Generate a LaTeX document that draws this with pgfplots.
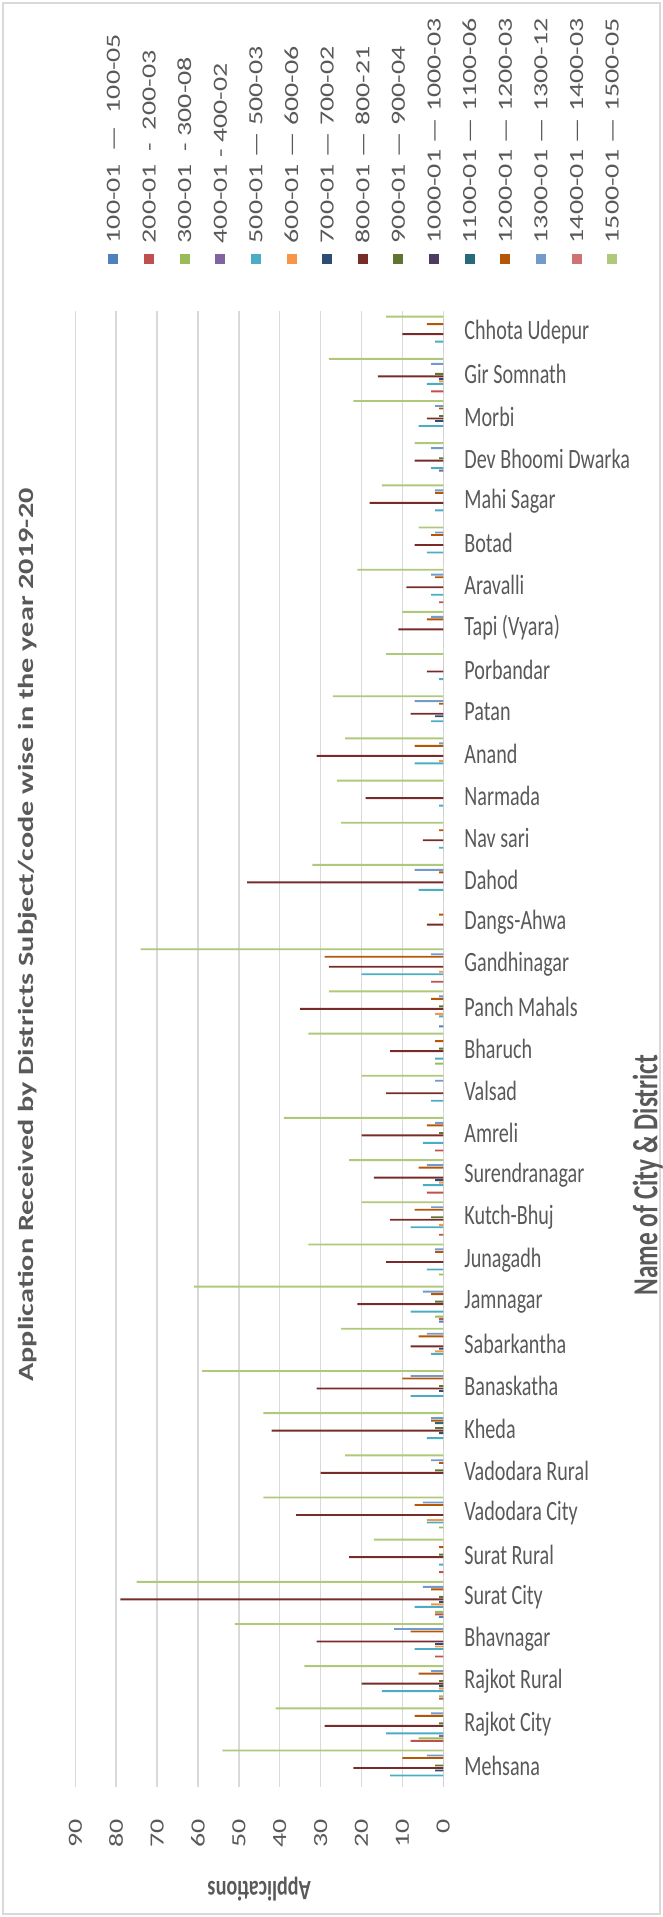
\documentclass[border=0pt]{standalone}
\usepackage{fontspec}
\setmainfont{Carlito}
\usepackage{pgfplots}
\usepackage{pgfplotstable}
\pgfplotsset{compat=1.18}

\definecolor{sA}{HTML}{4F81BD}
\definecolor{sB}{HTML}{C0504D}
\definecolor{sC}{HTML}{9BBB59}
\definecolor{sD}{HTML}{8064A2}
\definecolor{sE}{HTML}{4BACC6}
\definecolor{sF}{HTML}{F79646}
\definecolor{sG}{HTML}{2C4D75}
\definecolor{sH}{HTML}{772C2A}
\definecolor{sI}{HTML}{5F7530}
\definecolor{sJ}{HTML}{4D3B62}
\definecolor{sK}{HTML}{276A7C}
\definecolor{sL}{HTML}{B65708}
\definecolor{sM}{HTML}{729ACA}
\definecolor{sN}{HTML}{CD7371}
\definecolor{sO}{HTML}{AFC97A}
\definecolor{txt}{HTML}{595959}
\definecolor{grd}{HTML}{D9D9D9}

\newcommand\fs{\fontsize{15.9pt}{19pt}\selectfont}
% coloured key square at the start of a legend entry
\newcommand\lsq[1]{\textcolor{#1}{\rule[0.041cm]{0.2cm}{0.278cm}}\hspace{0.22cm}}

% rows: 0 = Mehsana (bottom) ... 34 = Chhota Udepur (top)
\pgfplotstableread{
idx s1 s2 s3 s4 s5 s6 s7 s8 s9 s10 s11 s12 s13 s14 s15
0  0 0 0 0 13 0 2 22 2 0 0 10 4  0 54
1  0 8 6 1 14 0 0 29 1 0 0 7  3  0 41
2  0 1 1 0 15 1 1 20 1 0 0 6  3  0 34
3  0 2 0 0 7  2 2 31 0 0 0 8  12 0 51
4  1 2 2 0 7  3 1 79 1 0 0 3  5  0 75
5  0 1 0 0 1  0 0 23 1 0 0 1  0  0 17
6  0 0 1 0 4  4 0 36 0 0 0 7  5  0 44
7  0 0 0 0 0  0 0 30 2 0 0 1  3  0 24
8  0 0 0 0 4  0 1 42 2 0 2 3  3  0 44
9  0 0 0 0 8  0 1 31 1 0 0 10 8  0 59
10 0 0 0 0 3  2 1 8  0 0 0 6  4  0 25
11 1 1 2 0 8  0 0 21 2 0 0 3  5  0 61
12 0 0 1 0 4  0 0 14 0 0 0 2  2  0 33
13 0 1 0 0 8  1 0 13 3 0 0 7  3  0 20
14 0 4 0 0 5  1 2 17 0 0 0 6  4  0 23
15 0 2 0 0 5  0 0 20 1 0 0 4  2  0 39
16 0 0 0 0 3  0 0 14 0 0 0 0  2  0 20
17 0 0 2 0 2  0 0 13 1 0 0 2  0  0 33
18 1 0 0 0 1  2 0 35 1 0 0 3  1  0 28
19 0 3 0 0 20 1 0 28 0 0 0 29 3  0 74
20 0 0 0 0 0  0 0 4  0 0 0 1  0  0 0
21 0 0 0 0 6  0 0 48 0 0 0 1  7  0 32
22 0 0 0 0 1  0 0 5  0 0 0 1  0  0 25
23 0 0 0 0 1  0 0 19 0 0 0 0  0  0 26
24 0 0 0 0 7  1 0 31 0 0 0 7  1  0 24
25 0 0 0 0 3  0 2 8  0 0 0 1  7  0 27
26 0 0 0 0 1  0 0 4  0 0 0 0  0  0 14
27 0 0 0 0 0  0 0 11 0 0 0 4  3  0 10
28 0 1 0 0 3  0 0 9  0 0 0 2  3  0 21
29 0 0 0 0 4  0 0 7  0 0 0 3  2  0 6
30 0 0 0 0 2  0 0 18 0 0 0 2  2  0 15
31 0 0 0 1 3  0 0 7  1 0 0 0  3  0 7
32 0 0 0 0 6  0 2 4  1 0 0 1  2  0 22
33 0 3 0 0 4  1 1 16 2 0 0 0  3  0 28
34 0 0 0 0 2  0 0 10 0 0 0 4  0  0 14
}\datatable

\begin{document}
\begin{tikzpicture}
\useasboundingbox (0,0) rectangle (13.26cm,38.34cm);
\draw[grd, line width=1.2pt] (0.06cm,0.06cm) rectangle (13.2cm,38.28cm);

\begin{axis}[
    at={(1.506cm,2.60cm)}, anchor=south west,
    scale only axis,
    width=7.36cm, height=29.52cm,
    xbar,
    x dir=reverse,
    xmin=0, xmax=90,
    ymin=-0.5, ymax=34.5,
    enlargelimits=false,
    axis line style={draw=none},
    tick style={draw=none},
    xmajorgrids, grid style={grd, line width=0.8pt},
    xtick={0,10,...,90},
    /pgf/number format/assume math mode=true,
    xticklabel style={yshift=-0.64cm, xscale=0.72, rotate=90, anchor=east,
        inner sep=0pt, font=\fs, text=txt},
    ytick={0,...,34},
    yticklabels={Mehsana, Rajkot City, Rajkot Rural, Bhavnagar, Surat City,
        Surat Rural, Vadodara City, Vadodara Rural, Kheda, Banaskatha,
        Sabarkantha, Jamnagar, Junagadh, Kutch-Bhuj, Surendranagar, Amreli,
        Valsad, Bharuch, Panch Mahals, Gandhinagar, Dangs-Ahwa, Dahod,
        Nav sari, Narmada, Anand, Patan, Porbandar, Tapi (Vyara), Aravalli,
        Botad, Mahi Sagar, Dev Bhoomi Dwarka, Morbi, Gir Somnath,
        Chhota Udepur},
    yticklabel pos=right,
    yticklabel style={xshift=0.268cm, xscale=0.72, anchor=west,
        inner sep=0pt, font=\fs, text=txt},
    xlabel={Applications},
    xlabel style={at={(axis description cs:0.5,-0.0691)}, anchor=center,
        xscale=0.72, rotate=180, font=\bfseries\fs, text=txt},
    ylabel={Name of City \& District},
    ylabel style={at={(axis description cs:1.556,0.4146)}, anchor=center,
        xscale=0.72, rotate=0, font=\bfseries\fontsize{20pt}{24pt}\selectfont, text=txt},
    bar width=0.045,
    legend columns=15,
    legend plot pos=none,
    legend cell align=left,
    legend style={draw=none, fill=none, inner sep=0pt,
        at={(0.0848,1.0312)}, anchor=south west,
        nodes={xscale=0.72, rotate=90, anchor=west, inner sep=0pt,
            text height=10.3pt, text depth=0pt, font=\fs, text=txt},
        /tikz/column sep=0.452cm},
]
\addplot[fill=sA, draw=none, bar shift=-0.465] table[x=s1,  y=idx] {\datatable};
\addplot[fill=sB, draw=none, bar shift=-0.406] table[x=s2,  y=idx] {\datatable};
\addplot[fill=sC, draw=none, bar shift=-0.347] table[x=s3,  y=idx] {\datatable};
\addplot[fill=sD, draw=none, bar shift=-0.287] table[x=s4,  y=idx] {\datatable};
\addplot[fill=sE, draw=none, bar shift=-0.228] table[x=s5,  y=idx] {\datatable};
\addplot[fill=sF, draw=none, bar shift=-0.169] table[x=s6,  y=idx] {\datatable};
\addplot[fill=sG, draw=none, bar shift=-0.109] table[x=s7,  y=idx] {\datatable};
\addplot[fill=sH, draw=none, bar shift=-0.050] table[x=s8,  y=idx] {\datatable};
\addplot[fill=sI, draw=none, bar shift=0.009]  table[x=s9,  y=idx] {\datatable};
\addplot[fill=sJ, draw=none, bar shift=0.069]  table[x=s10, y=idx] {\datatable};
\addplot[fill=sK, draw=none, bar shift=0.128]  table[x=s11, y=idx] {\datatable};
\addplot[fill=sL, draw=none, bar shift=0.187]  table[x=s12, y=idx] {\datatable};
\addplot[fill=sM, draw=none, bar shift=0.247]  table[x=s13, y=idx] {\datatable};
\addplot[fill=sN, draw=none, bar shift=0.306]  table[x=s14, y=idx] {\datatable};
\addplot[fill=sO, draw=none, bar shift=0.365]  table[x=s15, y=idx] {\datatable};
\legend{\lsq{sA}100-01~~—~~100-05, \lsq{sB}200-01~~-~~200-03,
    \lsq{sC}300-01~~-~300-08, \lsq{sD}400-01 - 400-02,
    \lsq{sE}500-01 — 500-03, \lsq{sF}600-01 — 600-06,
    \lsq{sG}700-01 — 700-02, \lsq{sH}800-01 — 800-21,
    \lsq{sI}900-01 — 900-04, \lsq{sJ}1000-01 — 1000-03,
    \lsq{sK}1100-01 — 1100-06, \lsq{sL}1200-01 — 1200-03,
    \lsq{sM}1300-01 — 1300-12, \lsq{sN}1400-01 — 1400-03,
    \lsq{sO}1500-01 — 1500-05}
\end{axis}

\node[xscale=0.72, rotate=90, font=\bfseries\fontsize{17.2pt}{20pt}\selectfont, text=txt]
    at (0.56cm,19.64cm)
    {Application Received by Districts Subject/code wise in the year 2019-20};
\end{tikzpicture}
\end{document}
